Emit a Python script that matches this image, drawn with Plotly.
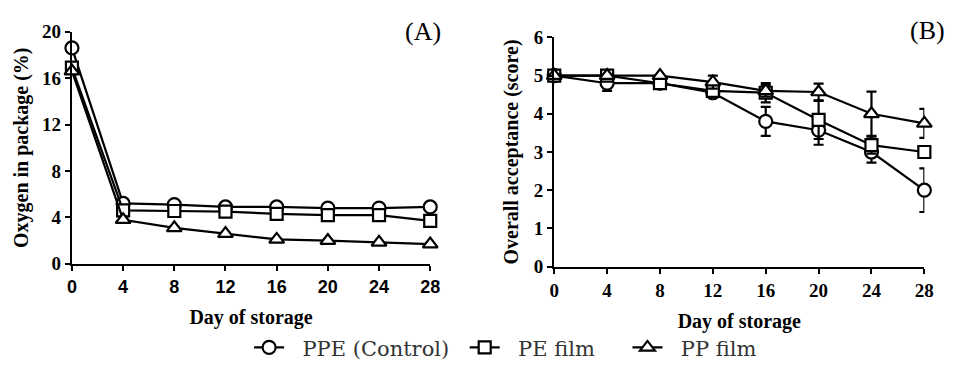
import plotly.graph_objects as go

# ---------------- data ----------------
days = [0, 4, 8, 12, 16, 20, 24, 28]
tick_days = [0, 4, 8, 12, 16, 20, 24, 28]

series_names = ["PPE (Control)", "PE film", "PP film"]

# (A) Oxygen in package (%)
o2_ppe = [18.6, 5.2, 5.1, 4.9, 4.9, 4.8, 4.8, 4.9]
o2_ppe_err = [0, 0.2, 0.35, 0.35, 0.35, 0.35, 0.35, 0.3]
o2_pe = [16.9, 4.6, 4.55, 4.5, 4.3, 4.2, 4.2, 3.7]
o2_pe_err = [0, 0.2, 0.3, 0.3, 0.3, 0.3, 0.3, 0.2]
o2_pp = [16.6, 3.8, 3.1, 2.6, 2.1, 2.0, 1.85, 1.7]
o2_pp_err = [0, 0.1, 0.1, 0.1, 0.1, 0.1, 0.1, 0.1]
o2_ticks = [0, 4, 8, 12, 16, 20]

# (B) Overall acceptance (score)
oa_ppe = [5.0, 4.8, 4.8, 4.55, 3.8, 3.57, 3.0, 2.0]
oa_ppe_err = [0, 0.2, 0.1, 0.1, 0.38, 0.38, 0.28, 0.57]
oa_pe = [5.0, 5.0, 4.8, 4.6, 4.55, 3.84, 3.18, 3.0]
oa_pe_err = [0, 0, 0.1, 0.12, 0.25, 0.5, 0.22, 0]
oa_pp = [5.0, 5.0, 5.0, 4.83, 4.6, 4.57, 4.0, 3.75]
oa_pp_err = [0, 0, 0, 0.17, 0.15, 0.22, 0.58, 0.38]
oa_ticks = [0, 1, 2, 3, 4, 5, 6]

# ---------------- style ----------------
W, H = 956, 372
symbols = ["circle", "square", "triangle-up"]
sizes = [13, 12, 13]
SERIF = "Liberation Serif"
SANS = "Liberation Sans"
LEG = "DejaVu Serif"
lead = "\u00a0\u00a0"
trail = ["\u2002", "\u2003\u00a0", ""]

fig = go.Figure()

panelA = [(o2_ppe, o2_ppe_err), (o2_pe, o2_pe_err), (o2_pp, o2_pp_err)]
panelB = [(oa_ppe, oa_ppe_err), (oa_pe, oa_pe_err), (oa_pp, oa_pp_err)]


def add(series, xa, ya, show):
    for i, (vals, err) in enumerate(series):
        fig.add_trace(go.Scatter(
            x=days, y=vals, xaxis=xa, yaxis=ya,
            mode="lines+markers",
            name=lead + series_names[i] + trail[i],
            showlegend=show,
            line=dict(color="black", width=2.2),
            marker=dict(symbol=symbols[i], size=sizes[i], color="white",
                        line=dict(color="black", width=2.2)),
            error_y=dict(type="data", array=err, visible=True,
                         color="black", thickness=2.2, width=5),
            cliponaxis=False,
        ))


add(panelA, "x", "y", True)
add(panelB, "x2", "y2", False)


def px_x(p):
    return p / W


def px_y(p):
    return 1 - p / H


axis_common = dict(showline=True, linecolor="black", linewidth=2.2,
                   ticks="outside", ticklen=5, tickwidth=2.2, tickcolor="black",
                   showgrid=False, zeroline=False, mirror=False)

title_font = dict(family=SERIF, size=20, color="black", weight="bold")
tick_serif = dict(family=SERIF, size=19, color="black", weight="bold")

fig.update_layout(
    width=W, height=H,
    margin=dict(l=0, r=0, t=0, b=0),
    paper_bgcolor="white", plot_bgcolor="white",
    xaxis=dict(domain=[px_x(68), px_x(432)], range=[0, 28], tickvals=tick_days,
               tickfont=dict(family=SANS, size=18, color="black", weight="bold"),
               title=dict(text="Day of storage", standoff=14, font=title_font),
               anchor="y", **axis_common),
    yaxis=dict(domain=[px_y(269), px_y(23)], range=[0, 20], tickvals=o2_ticks,
               tickfont=tick_serif,
               title=dict(text="Oxygen in package (%)", standoff=8, font=title_font),
               anchor="x", **axis_common),
    xaxis2=dict(domain=[px_x(558), px_x(934)], range=[0, 28], tickvals=tick_days,
                tickfont=tick_serif,
                title=dict(text="Day of storage", standoff=14, font=title_font),
                anchor="y2", **axis_common),
    yaxis2=dict(domain=[px_y(272), px_y(29)], range=[0, 6], tickvals=oa_ticks,
                tickfont=tick_serif,
                title=dict(text="Overall acceptance (score)", standoff=10, font=title_font),
                anchor="x2", **axis_common),
    legend=dict(orientation="h", x=px_x(248), xanchor="left",
                y=px_y(358), yanchor="middle",
                font=dict(family=LEG, size=21, color="#333333"),
                bgcolor="rgba(0,0,0,0)", itemclick=False),
    annotations=[
        dict(text="(A)", x=px_x(425), y=px_y(23), xref="paper", yref="paper",
             showarrow=False, xanchor="center", yanchor="middle",
             font=dict(family=SERIF, size=26, color="black")),
        dict(text="(B)", x=px_x(937), y=px_y(22), xref="paper", yref="paper",
             showarrow=False, xanchor="center", yanchor="middle",
             font=dict(family=SERIF, size=26, color="black")),
    ],
)

fig.write_html("out.html")
